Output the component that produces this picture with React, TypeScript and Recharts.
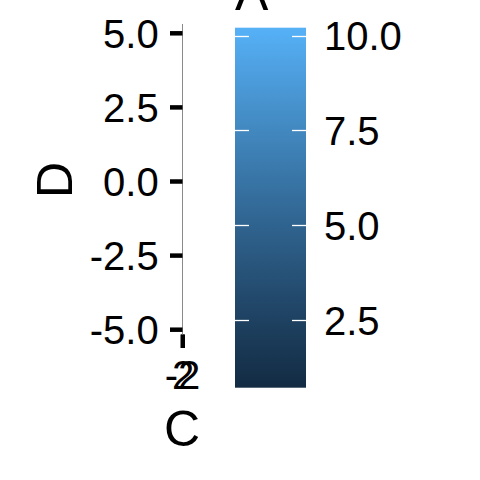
import React from 'react';
import { ScatterChart, Scatter, XAxis, YAxis, Customized } from 'recharts';

// ---- data ----
const C_VALUES = [-2, -1, 0, 1, 2];
const D_VALUES = [-5, 2.1, -1.3, 4.2, 5];
const A_VALUES = [0.74, 3.4, 5.6, 7.9, 10.22];
const X_TICKS = [-2, 2];
const Y_TICKS = [-5, -2.5, 0, 2.5, 5];
const LEGEND_TICKS = [2.5, 5, 7.5, 10];
const A_LIMITS = [0.74, 10.22];
const X_TITLE = 'C';
const Y_TITLE = 'D';
const LEGEND_TITLE = 'A';
const LOW_COLOR = '#132B43';
const HIGH_COLOR = '#56B1F7';

const data = C_VALUES.map((c, i) => ({ C: c, D: D_VALUES[i], A: A_VALUES[i] }));

const FONT = '"Liberation Sans", Arial, Helvetica, sans-serif';

// ---- Lab interpolation (like ggplot's seq_gradient_pal) ----
const toLin = (c: number) => {
  c /= 255;
  return c <= 0.04045 ? c / 12.92 : Math.pow((c + 0.055) / 1.055, 2.4);
};
const fromLin = (c: number) => {
  const v = c <= 0.0031308 ? 12.92 * c : 1.055 * Math.pow(c, 1 / 2.4) - 0.055;
  return Math.round(Math.min(1, Math.max(0, v)) * 255);
};
const hexToLab = (hex: string) => {
  const r = toLin(parseInt(hex.slice(1, 3), 16));
  const g = toLin(parseInt(hex.slice(3, 5), 16));
  const b = toLin(parseInt(hex.slice(5, 7), 16));
  const X = (0.4124 * r + 0.3576 * g + 0.1805 * b) / 0.95047;
  const Y = 0.2126 * r + 0.7152 * g + 0.0722 * b;
  const Z = (0.0193 * r + 0.1192 * g + 0.9505 * b) / 1.08883;
  const f = (t: number) => (t > 0.008856 ? Math.cbrt(t) : 7.787 * t + 16 / 116);
  const fx = f(X), fy = f(Y), fz = f(Z);
  return [116 * fy - 16, 500 * (fx - fy), 200 * (fy - fz)];
};
const labToHex = (lab: number[]) => {
  const fy = (lab[0] + 16) / 116;
  const fx = fy + lab[1] / 500;
  const fz = fy - lab[2] / 200;
  const inv = (t: number) => (t * t * t > 0.008856 ? t * t * t : (t - 16 / 116) / 7.787);
  const X = inv(fx) * 0.95047, Y = inv(fy), Z = inv(fz) * 1.08883;
  const r = 3.2406 * X - 1.5372 * Y - 0.4986 * Z;
  const g = -0.9689 * X + 1.8758 * Y + 0.0415 * Z;
  const b = 0.0557 * X - 0.204 * Y + 1.057 * Z;
  const h = (v: number) => fromLin(v).toString(16).padStart(2, '0');
  return '#' + h(r) + h(g) + h(b);
};
const LAB_LOW = hexToLab(LOW_COLOR);
const LAB_HIGH = hexToLab(HIGH_COLOR);
const mix = (t: number) => labToHex(LAB_LOW.map((v, i) => v + (LAB_HIGH[i] - v) * t));
const STOPS = Array.from({ length: 21 }, (_, i) => i / 20);

// ---- legend (colourbar) ----
const BAR_X = 235;
const BAR_W = 71;
const BAR_TOP = 27.7;
const BAR_BOTTOM = 387.7;
const barY = (v: number) =>
  BAR_BOTTOM - ((v - A_LIMITS[0]) / (A_LIMITS[1] - A_LIMITS[0])) * (BAR_BOTTOM - BAR_TOP);

const Overlay = () => (
  <g fontFamily={FONT}>
    <defs>
      <linearGradient id="cbar" x1="0" y1="1" x2="0" y2="0">
        {STOPS.map((t) => (
          <stop key={t} offset={t} stopColor={mix(t)} />
        ))}
      </linearGradient>
    </defs>
    <rect x={BAR_X} y={BAR_TOP} width={BAR_W} height={BAR_BOTTOM - BAR_TOP} fill="url(#cbar)" />
    {LEGEND_TICKS.map((v) => {
      const y = Math.floor(barY(v)) + 0.5;
      return (
        <g key={v}>
          <line x1={BAR_X} x2={BAR_X + 14} y1={y} y2={y} stroke="#fff" strokeWidth={1.3} />
          <line x1={BAR_X + BAR_W - 14} x2={BAR_X + BAR_W} y1={y} y2={y} stroke="#fff" strokeWidth={1.3} />
          <text x={324} y={barY(v) + 14.3} fontSize={40} fill="#000">
            {v.toFixed(1)}
          </text>
        </g>
      );
    })}
    <text x={235} y={10} fontSize={50} fill="#000">
      {LEGEND_TITLE}
    </text>
    <text x={182} y={445.5} fontSize={50} fill="#000" textAnchor="middle">
      {X_TITLE}
    </text>
    <text x={72} y={180} fontSize={50} fill="#000" textAnchor="middle" transform="rotate(-90, 72, 180)">
      {Y_TITLE}
    </text>
  </g>
);

const EmptyShape = () => <g />;

export default function App() {
  return (
    <div style={{ position: 'absolute', left: 0, top: 0, width: 480, height: 480, background: '#fff' }}>
      <ScatterChart
        width={480}
        height={480}
        margin={{ top: 24, right: 297, left: 12.5, bottom: 85.5 }}
      >
        <XAxis
          type="number"
          dataKey="C"
          domain={[-2, 2]}
          ticks={X_TICKS}
          interval={0}
          height={60}
          axisLine={false}
          tickSize={13.5}
          tickMargin={12.5}
          tickLine={{ stroke: '#000', strokeWidth: 4 }}
          tick={{ fill: '#000', fontSize: 40, fontFamily: FONT }}
          tickFormatter={(v: number) => String(v)}
        />
        <YAxis
          type="number"
          dataKey="D"
          domain={[-5.162, 5.314]}
          ticks={Y_TICKS}
          interval={0}
          width={170}
          axisLine={{ stroke: '#8A8A8A', strokeWidth: 1 }}
          tickSize={12.5}
          tickMargin={11.3}
          tickLine={{ stroke: '#000', strokeWidth: 4.5 }}
          tick={{ fill: '#000', fontSize: 40, fontFamily: FONT }}
          tickFormatter={(v: number) => v.toFixed(1)}
        />
        <Scatter data={data} shape={EmptyShape} isAnimationActive={false} />
        <Customized component={<Overlay />} />
      </ScatterChart>
    </div>
  );
}
